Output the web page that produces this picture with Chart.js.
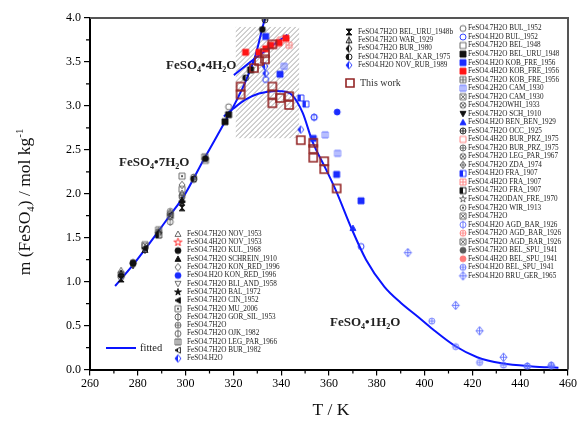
<!DOCTYPE html>
<html>
<head>
<meta charset="utf-8">
<script src="https://cdn.jsdelivr.net/npm/chart.js@4.4.0/dist/chart.umd.min.js"></script>
<style>
    html, body { margin: 0; padding: 0; background: #fff; }
</style>
</head>
<body>
<canvas id="solChart" width="580" height="423"></canvas>
<script>
// Solubility of FeSO4 hydrates: T in K, m in mol/kg
const fit7 = [[270.5, 0.95], [278, 1.19], [288, 1.55], [293.6, 1.76], [299.2, 1.97], [307.6, 2.39], [316.7, 2.83], [320.9, 3.04], [325.1, 3.28], [329.3, 3.58], [331.8, 3.85], [333.2, 4.0]];
const fit4 = [[320.2, 3.35], [331, 3.58], [342.6, 3.81]];
const fit1 = [[316, 2.88], [320, 2.97], [325, 3.07], [330.7, 3.14], [337.7, 3.17], [342, 3.16], [344.7, 3.12], [349, 2.92], [353, 2.6], [358.7, 2.28], [363, 2.03], [369.5, 1.6], [375.5, 1.25], [383.2, 0.94], [390, 0.76], [397.2, 0.6], [403.3, 0.46], [412.6, 0.27], [422, 0.14], [432.3, 0.07], [445, 0.035], [456, 0.02]];

const thisWork = [[323, 3.22], [323, 3.13], [328.6, 3.43], [330.7, 3.51], [333.2, 3.53], [333.2, 3.6], [336.3, 3.7], [336.3, 3.22], [336.3, 3.13], [336.3, 3.03], [339.5, 3.09], [343.3, 3.11], [343.3, 3.01], [348.2, 2.61], [353.4, 2.58], [353.4, 2.51], [353.4, 2.41], [358, 2.37], [358, 2.28], [363.2, 2.06]];

const belUru48b = [[298.5, 1.84], [273, 1.03]];
const war29 = [[283, 1.36]];
const bur80 = [[288.7, 1.55]];
const balKar75 = [[303.4, 2.17], [325.1, 3.32]];
const novRub89 = [[333.2, 3.45], [333.5, 3.37], [348.2, 2.73]];

const nov53 = [[273, 1.13], [298.5, 2.01]];
const nov53b = [];
const kul68 = [[278, 1.21], [308.3, 2.4], [332.1, 3.87]];
const schrein10 = [[273, 1.1], [298.5, 1.93]];
const konRed7 = [[298.5, 2.1], [293.6, 1.78]];
const konRed1 = [[363.4, 2.93]];
const bliAnd58 = [[293.6, 1.73]];
const bal72 = [[298.5, 1.9]];
const cin52 = [[283, 1.38]];
const mu06 = [[298.5, 2.2], [283, 1.4]];
const gorSil53 = [[293.6, 1.68], [273, 1.05]];
const plain7a = [[288.7, 1.57], [303.4, 2.19]];
const ojk82 = [[278, 1.2]];
const legPar66 = [[273, 1.08], [308, 2.42]];
const bur82 = [[293.6, 1.76]];
const plain1 = [];

const bul52 = [[318, 2.99]];
const bul52h = [[333.5, 3.3], [373.4, 1.4], [353.8, 2.87]];
const bel48 = [[298.5, 2.05]];
const belUru48 = [[316.5, 2.82], [318, 2.9], [327.2, 3.41]];
const kob56h = [[333.5, 3.79], [339.5, 3.36], [353.4, 2.63], [363.2, 2.22], [373.4, 1.92]];
const kob56q = [[325.1, 3.61], [330.7, 3.61], [333.5, 3.65], [335.6, 3.69], [339.1, 3.72], [342, 3.77]];
const kob56s = [[288.7, 1.59]];
const cam30d = [[341.2, 3.45], [358.4, 2.67], [363.6, 2.46]];
const cam30s = [[283, 1.42]];
const whi33 = [[298.5, 1.98]];
const sch10 = [[278, 1.18]];
const benBen29 = [[370, 1.61]];
const occ25 = [[333.2, 3.98]];
const burPrz75q = [[338.4, 3.71], [339.8, 3.75]];
const burPrz75s = [[293.6, 1.8]];
const legPar67 = [[303.4, 2.16]];
const zda74 = [[273, 1.07]];
const fra07h = [[348.2, 3.09], [350.3, 3.02]];
const fra07q = [[343.3, 3.69]];
const fra07s = [[288.7, 1.53]];
const danFre70 = [[283, 1.37]];
const wir13 = [[298.5, 1.96]];
const plain7b = [[308.3, 2.38]];
const agdBar26h = [[353.8, 2.87]];
const agdBar26a = [];
const agdBar26b = [[293.6, 1.75]];
const belSpu41s = [[278, 1.22]];
const belSpu41q = [];
const belSpu41h = [[403, 0.55], [413, 0.26], [423, 0.08], [433, 0.05], [443, 0.04], [453, 0.05]];
const bruGer65 = [[393, 1.33], [413, 0.73], [423, 0.44], [433, 0.14], [443, 0.03], [453, 0.04]];

const SERIF = "'Liberation Serif', 'DejaVu Serif', serif";
const GREY = '#5a5a5a', BLACK = '#111', BLUE = '#1a2bff', LBLUE = '#5d6dff', RED = '#ff1414', LRED = '#ff7b7b', BROWN = '#932424';
const LINE_BLUE = '#0a14ff';

// Marker sprites drawn once, used both by the chart and the legends
function shapePath(g, shape, c, r) {
    g.beginPath();
    if (shape === 'circle') {
        g.arc(c, c, r, 0, Math.PI * 2);
    } else if (shape === 'square') {
        g.rect(c - r, c - r, 2 * r, 2 * r);
    } else if (shape === 'diamond') {
        g.moveTo(c, c - r * 1.25); g.lineTo(c + r, c); g.lineTo(c, c + r * 1.25); g.lineTo(c - r, c); g.closePath();
    } else if (shape === 'tri') {
        g.moveTo(c, c - r); g.lineTo(c + r, c + r * 0.8); g.lineTo(c - r, c + r * 0.8); g.closePath();
    } else if (shape === 'triDown') {
        g.moveTo(c, c + r); g.lineTo(c + r, c - r * 0.8); g.lineTo(c - r, c - r * 0.8); g.closePath();
    } else if (shape === 'triLeft') {
        g.moveTo(c - r, c); g.lineTo(c + r * 0.8, c - r); g.lineTo(c + r * 0.8, c + r); g.closePath();
    } else if (shape === 'hourglass') {
        g.moveTo(c - r, c - r); g.lineTo(c + r, c - r); g.lineTo(c - r, c + r); g.lineTo(c + r, c + r); g.closePath();
    } else if (shape === 'star') {
        for (let i = 0; i < 10; i++) {
            const a = -Math.PI / 2 + i * Math.PI / 5;
            const rr = i % 2 ? r * 0.45 : r * 1.2;
            g.lineTo(c + rr * Math.cos(a), c + rr * Math.sin(a));
        }
        g.closePath();
    }
}

function marker(kind, color, size, lw) {
    const [shape, mode] = kind.split('-');
    const s = size || 6;
    const n = Math.ceil(s + 6), c = n / 2, r = s / 2;
    const cv = document.createElement('canvas');
    cv.width = n; cv.height = n;
    const g = cv.getContext('2d');
    g.strokeStyle = color;
    g.fillStyle = color;
    g.lineWidth = lw || 0.9;
    shapePath(g, shape, c, r);
    if (mode === 'f') {
        g.fill();
    } else if (mode === 'h') {
        g.save(); g.clip(); g.fillRect(0, 0, c, n); g.restore();
    }
    g.stroke();
    g.beginPath();
    if (mode === '+') {
        g.moveTo(c - r, c); g.lineTo(c + r, c); g.moveTo(c, c - r); g.lineTo(c, c + r);
    } else if (mode === 'x') {
        const d = r * 0.7;
        g.moveTo(c - d, c - d); g.lineTo(c + d, c + d); g.moveTo(c + d, c - d); g.lineTo(c - d, c + d);
    } else if (mode === '|') {
        g.moveTo(c, c - r - 1); g.lineTo(c, c + r + 1);
    } else if (mode === '=') {
        g.moveTo(c - r / 3, c - r); g.lineTo(c - r / 3, c + r); g.moveTo(c + r / 3, c - r); g.lineTo(c + r / 3, c + r);
    } else if (mode === '.') {
        g.fillRect(c - 1, c - 1, 2, 2);
    }
    g.stroke();
    return cv;
}

function entry(label, kind, color, data, size) {
    return { label, data, img: marker(kind, color, size || 6) };
}

const legendA = [
    entry('FeSO4.7H2O BEL_URU_1948b', 'hourglass-f', BLACK, belUru48b),
    entry('FeSO4.7H2O WAR_1929', 'tri-|', BLACK, war29),
    entry('FeSO4.7H2O BUR_1980', 'diamond-h', BLACK, bur80),
    entry('FeSO4.7H2O BAL_KAR_1975', 'circle-h', BLACK, balKar75),
    entry('FeSO4.H2O NOV_RUB_1989', 'diamond-h', BLUE, novRub89)
];
const thisWorkImg = marker('square-o', BROWN, 8, 1.6);

const legendB = [
    entry('FeSO4.7H2O NOV_1953', 'tri-o', GREY, nov53),
    entry('FeSO4.4H2O NOV_1953', 'star-o', RED, nov53b, 7),
    entry('FeSO4.7H2O KUL_1968', 'circle-f', BLACK, kul68),
    entry('FeSO4.7H2O SCHREIN_1910', 'tri-f', BLACK, schrein10),
    entry('FeSO4.7H2O KON_RED_1996', 'diamond-o', GREY, konRed7),
    entry('FeSO4.H2O KON_RED_1996', 'circle-f', BLUE, konRed1),
    entry('FeSO4.7H2O BLI_AND_1958', 'triDown-o', GREY, bliAnd58),
    entry('FeSO4.7H2O BAL_1972', 'star-f', BLACK, bal72),
    entry('FeSO4.7H2O CIN_1952', 'triLeft-f', BLACK, cin52),
    entry('FeSO4.7H2O MU_2006', 'square-.', GREY, mu06),
    entry('FeSO4.7H2O GOR_SIL_1953', 'circle-|', GREY, gorSil53),
    entry('FeSO4.7H2O', 'circle-+', GREY, plain7a),
    entry('FeSO4.7H2O OJK_1982', 'circle-|', GREY, ojk82),
    entry('FeSO4.7H2O LEG_PAR_1966', 'square-=', GREY, legPar66),
    entry('FeSO4.7H2O BUR_1982', 'triLeft-h', BLACK, bur82),
    entry('FeSO4.H2O', 'diamond-h', BLUE, plain1)
];

const legendC = [
    entry('FeSO4.7H2O BUL_1952', 'circle-o', GREY, bul52),
    entry('FeSO4.H2O BUL_1952', 'circle-o', BLUE, bul52h),
    entry('FeSO4.7H2O BEL_1948', 'square-o', GREY, bel48),
    entry('FeSO4.7H2O BEL_URU_1948', 'square-f', BLACK, belUru48),
    entry('FeSO4.H2O KOB_FRE_1956', 'square-f', BLUE, kob56h),
    entry('FeSO4.4H2O KOB_FRE_1956', 'square-f', RED, kob56q),
    entry('FeSO4.7H2O KOB_FRE_1956', 'square-+', GREY, kob56s),
    entry('FeSO4.2H2O CAM_1930', 'square-=', LBLUE, cam30d),
    entry('FeSO4.7H2O CAM_1930', 'square-x', GREY, cam30s),
    entry('FeSO4.7H2OWHI_1933', 'circle-x', GREY, whi33),
    entry('FeSO4.7H2O SCH_1910', 'triDown-f', BLACK, sch10),
    entry('FeSO4.H2O BEN_BEN_1929', 'tri-f', BLUE, benBen29),
    entry('FeSO4.7H2O OCC_1925', 'circle-+', BLACK, occ25),
    entry('FeSO4.4H2O BUR_PRZ_1975', 'square-o', LRED, burPrz75q),
    entry('FeSO4.7H2O BUR_PRZ_1975', 'circle-+', GREY, burPrz75s),
    entry('FeSO4.7H2O LEG_PAR_1967', 'circle-x', GREY, legPar67),
    entry('FeSO4.7H2O ZDA_1974', 'diamond-+', GREY, zda74),
    entry('FeSO4.H2O FRA_1907', 'square-h', BLUE, fra07h),
    entry('FeSO4.4H2O FRA_1907', 'square-+', LRED, fra07q),
    entry('FeSO4.7H2O FRA_1907', 'square-h', BLACK, fra07s),
    entry('FeSO4.7H2ODAN_FRE_1970', 'star-o', GREY, danFre70),
    entry('FeSO4.7H2O WIR_1913', 'circle-.', GREY, wir13),
    entry('FeSO4.7H2O', 'square-x', GREY, plain7b),
    entry('FeSO4.H2O AGD_BAR_1926', 'circle-|', LBLUE, agdBar26h),
    entry('FeSO4.7H2O AGD_BAR_1926', 'circle-+', LRED, agdBar26a),
    entry('FeSO4.7H2O AGD_BAR_1926', 'square-x', GREY, agdBar26b),
    entry('FeSO4.7H2O BEL_SPU_1941', 'circle-f', GREY, belSpu41s),
    entry('FeSO4.4H2O BEL_SPU_1941', 'circle-f', LRED, belSpu41q),
    entry('FeSO4.H2O BEL_SPU_1941', 'circle-+', LBLUE, belSpu41h),
    entry('FeSO4.H2O BRU_GER_1965', 'diamond-+', LBLUE, bruGer65, 7)
];

const toXY = arr => arr.map(p => ({ x: p[0], y: p[1] }));

const datasets = [];
[fit7, fit4, fit1].forEach(curve => {
    datasets.push({
        data: toXY(curve),
        showLine: true,
        borderColor: LINE_BLUE,
        borderWidth: 2,
        pointRadius: 0,
        cubicInterpolationMode: 'monotone',
        order: 3
    });
});
legendA.concat(legendB, legendC).forEach(e => {
    if (!e.data.length) return;
    datasets.push({ label: e.label, data: toXY(e.data), pointStyle: e.img, pointRadius: 3, order: 2 });
});
datasets.push({ label: 'This work', data: toXY(thisWork), pointStyle: thisWorkImg, pointRadius: 4, order: 1 });

// text with sub/superscripts, parts = [[text, 'sub'|'sup'|undefined], ...]
function richWidth(ctx, parts, size, weight) {
    let w = 0;
    parts.forEach(([t, k]) => {
        ctx.font = `${weight} ${k ? size * 0.62 : size}px ${SERIF}`;
        w += ctx.measureText(t).width;
    });
    return w;
}
function drawRich(ctx, parts, x, y, size, weight, align) {
    weight = weight || 'normal';
    let cx = align === 'center' ? x - richWidth(ctx, parts, size, weight) / 2 : x;
    ctx.textBaseline = 'alphabetic';
    ctx.textAlign = 'left';
    parts.forEach(([t, k]) => {
        ctx.font = `${weight} ${k ? size * 0.62 : size}px ${SERIF}`;
        const dy = k === 'sub' ? size * 0.22 : k === 'sup' ? -size * 0.42 : 0;
        ctx.fillText(t, cx, y + dy);
        cx += ctx.measureText(t).width;
    });
}

const decor = {
    id: 'decor',
    beforeDatasetsDraw(chart) {
        const { ctx, scales: { x, y } } = chart;
        // hatched metastable zone
        const x0 = x.getPixelForValue(321), x1 = x.getPixelForValue(347.5);
        const y0 = y.getPixelForValue(3.9), y1 = y.getPixelForValue(2.63);
        const h = y1 - y0;
        ctx.save();
        ctx.beginPath();
        ctx.rect(x0, y0, x1 - x0, h);
        ctx.clip();
        ctx.strokeStyle = '#8a8a8a';
        ctx.lineWidth = 0.8;
        ctx.beginPath();
        for (let k = -h; k < x1 - x0; k += 5) {
            ctx.moveTo(x0 + k, y1);
            ctx.lineTo(x0 + k + h, y0);
        }
        ctx.stroke();
        ctx.restore();
    },
    afterDatasetsDraw(chart) {
        const { ctx, chartArea: a, scales: { x, y } } = chart;
        ctx.save();
        // box frame on top and right
        ctx.strokeStyle = '#555';
        ctx.lineWidth = 2;
        ctx.beginPath();
        ctx.moveTo(a.left, a.top);
        ctx.lineTo(a.right, a.top);
        ctx.lineTo(a.right, a.bottom);
        ctx.stroke();

        // minor ticks
        ctx.strokeStyle = '#000';
        ctx.lineWidth = 1.2;
        ctx.beginPath();
        for (let t = 270; t < 460; t += 20) {
            const px = x.getPixelForValue(t);
            ctx.moveTo(px, a.bottom);
            ctx.lineTo(px, a.bottom + 4);
        }
        for (let m = 0.25; m < 4; m += 0.5) {
            const py = y.getPixelForValue(m);
            ctx.moveTo(a.left - 4, py);
            ctx.lineTo(a.left, py);
        }
        ctx.stroke();

        // phase labels
        ctx.fillStyle = '#222';
        drawRich(ctx, [['FeSO'], ['4', 'sub'], ['•4H'], ['2', 'sub'], ['O']], 166, 69, 13, 'bold');
        drawRich(ctx, [['FeSO'], ['4', 'sub'], ['•7H'], ['2', 'sub'], ['O']], 119, 166, 13, 'bold');
        drawRich(ctx, [['FeSO'], ['4', 'sub'], ['•1H'], ['2', 'sub'], ['O']], 330, 326, 13, 'bold');

        // legends
        const drawList = (list, mx, tx, top, step) => {
            list.forEach((e, i) => {
                const yy = top + i * step;
                ctx.drawImage(e.img, mx - e.img.width / 2, yy - e.img.height / 2);
                ctx.fillStyle = '#222';
                ctx.font = `7.2px ${SERIF}`;
                ctx.textAlign = 'left';
                ctx.textBaseline = 'middle';
                ctx.fillText(e.label, tx, yy);
            });
        };
        drawList(legendA, 349, 358, 32, 8.3);
        drawList(legendB, 178, 187, 234, 8.3);
        drawList(legendC, 463, 468, 28.5, 8.53);

        ctx.drawImage(thisWorkImg, 350 - thisWorkImg.width / 2, 83 - thisWorkImg.height / 2);
        ctx.fillStyle = '#333';
        ctx.font = `10px ${SERIF}`;
        ctx.textBaseline = 'middle';
        ctx.fillText('This work', 360, 83);

        ctx.strokeStyle = LINE_BLUE;
        ctx.lineWidth = 2;
        ctx.beginPath();
        ctx.moveTo(106, 348);
        ctx.lineTo(136, 348);
        ctx.stroke();
        ctx.fillStyle = '#222';
        ctx.font = `10.5px ${SERIF}`;
        ctx.fillText('fitted', 140, 348);

        // axis titles
        ctx.fillStyle = '#111';
        ctx.save();
        ctx.translate(30, 202);
        ctx.rotate(-Math.PI / 2);
        drawRich(ctx, [['m (FeSO'], ['4', 'sub'], [') / mol kg'], ['-1', 'sup']], 0, 0, 17.5, 'normal', 'center');
        ctx.restore();
        ctx.font = `17.5px ${SERIF}`;
        ctx.textAlign = 'center';
        ctx.textBaseline = 'middle';
        ctx.fillText('T / K', 331, 410);
        ctx.restore();
    }
};

new Chart(document.getElementById('solChart'), {
    type: 'scatter',
    data: { datasets },
    options: {
        responsive: false,
        animation: false,
        events: [],
        layout: { padding: { left: 0, right: 12, top: 18, bottom: 0 } },
        plugins: { legend: { display: false }, tooltip: { enabled: false } },
        scales: {
            x: {
                type: 'linear',
                min: 260,
                max: 460,
                afterFit: s => { s.height = 53.5; },
                ticks: { stepSize: 20, color: '#000', padding: 1, maxRotation: 0, font: { family: SERIF, size: 12 } },
                grid: { drawOnChartArea: false, tickLength: 6, color: '#000', lineWidth: 1.2 },
                border: { color: '#000', width: 2 }
            },
            y: {
                type: 'linear',
                min: 0,
                max: 4,
                afterFit: s => { s.width = 90; },
                ticks: { stepSize: 0.5, color: '#000', padding: 3, callback: v => v.toFixed(1), font: { family: SERIF, size: 12 } },
                grid: { drawOnChartArea: false, tickLength: 6, color: '#000', lineWidth: 1.2 },
                border: { color: '#000', width: 2 }
            }
        }
    },
    plugins: [decor]
});
</script>
</body>
</html>
